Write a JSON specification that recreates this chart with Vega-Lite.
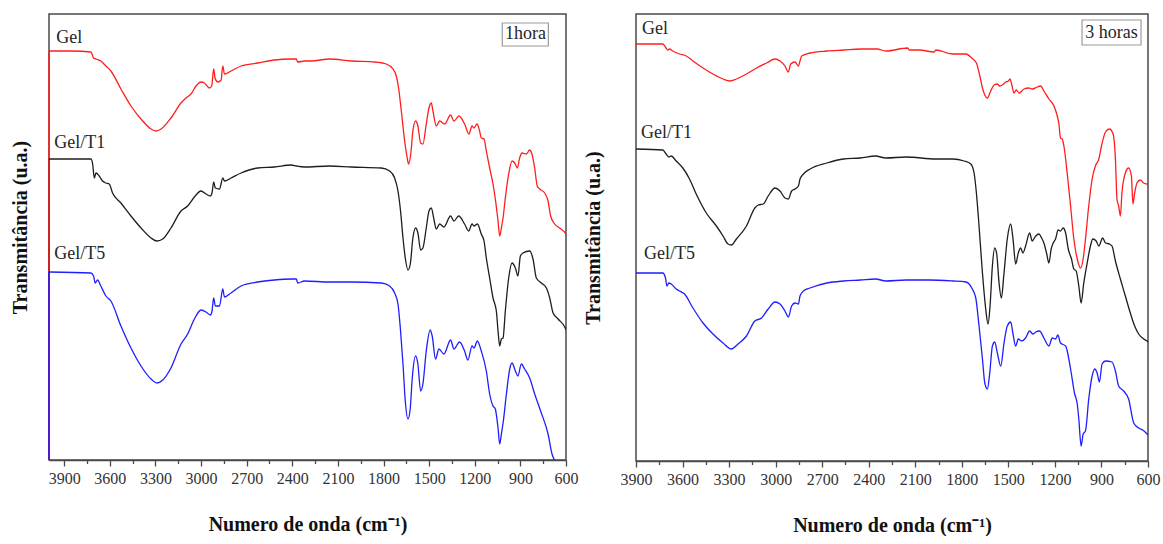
{
"$schema": "https://vega.github.io/schema/vega-lite/v6.json",
"background": "white",
"padding": {"left": 9, "top": 13, "right": 5, "bottom": 0},
"spacing": 3,
"config": {
  "view": {"stroke": "#4a4a4a", "strokeWidth": 1.5},
  "axis": {"domainColor": "#4a4a4a", "tickColor": "#4a4a4a", "domainWidth": 1.5, "tickWidth": 1.3, "labelFont": "Liberation Serif", "titleFont": "Liberation Serif", "labelColor": "#333333", "titleColor": "#111111", "grid": false},
  "text": {"font": "Liberation Serif"}
},
"datasets": {
  "h1": [
    {"s":"Gel","w":4000,"t":409},{"s":"Gel","w":3850,"t":409},{"s":"Gel","w":3724,"t":408},{"s":"Gel","w":3707,"t":402},{"s":"Gel","w":3691,"t":401},{"s":"Gel","w":3659,"t":399},{"s":"Gel","w":3626,"t":394},{"s":"Gel","w":3593,"t":389},{"s":"Gel","w":3527,"t":371},{"s":"Gel","w":3461,"t":354},{"s":"Gel","w":3395,"t":341},{"s":"Gel","w":3329,"t":331},{"s":"Gel","w":3296,"t":329},{"s":"Gel","w":3263,"t":331},{"s":"Gel","w":3198,"t":342},{"s":"Gel","w":3132,"t":357},{"s":"Gel","w":3099,"t":362},{"s":"Gel","w":3066,"t":366},{"s":"Gel","w":3033,"t":374},{"s":"Gel","w":3000,"t":378},{"s":"Gel","w":2978,"t":377},{"s":"Gel","w":2945,"t":372},{"s":"Gel","w":2930,"t":374},{"s":"Gel","w":2917,"t":391},{"s":"Gel","w":2908,"t":382},{"s":"Gel","w":2890,"t":378},{"s":"Gel","w":2868,"t":380},{"s":"Gel","w":2857,"t":394},{"s":"Gel","w":2846,"t":386},{"s":"Gel","w":2803,"t":389},{"s":"Gel","w":2737,"t":394},{"s":"Gel","w":2627,"t":397},{"s":"Gel","w":2517,"t":400},{"s":"Gel","w":2407,"t":401},{"s":"Gel","w":2374,"t":401},{"s":"Gel","w":2364,"t":398},{"s":"Gel","w":2320,"t":399},{"s":"Gel","w":2276,"t":399},{"s":"Gel","w":2155,"t":401},{"s":"Gel","w":2012,"t":399},{"s":"Gel","w":1859,"t":398},{"s":"Gel","w":1782,"t":396},{"s":"Gel","w":1738,"t":391},{"s":"Gel","w":1716,"t":384},{"s":"Gel","w":1701,"t":372},{"s":"Gel","w":1683,"t":349},{"s":"Gel","w":1661,"t":319},{"s":"Gel","w":1644,"t":302},{"s":"Gel","w":1635,"t":296},{"s":"Gel","w":1621,"t":306},{"s":"Gel","w":1607,"t":329},{"s":"Gel","w":1589,"t":339},{"s":"Gel","w":1574,"t":334},{"s":"Gel","w":1556,"t":317},{"s":"Gel","w":1541,"t":316},{"s":"Gel","w":1519,"t":336},{"s":"Gel","w":1501,"t":352},{"s":"Gel","w":1486,"t":357},{"s":"Gel","w":1475,"t":349},{"s":"Gel","w":1453,"t":334},{"s":"Gel","w":1431,"t":339},{"s":"Gel","w":1398,"t":336},{"s":"Gel","w":1359,"t":345},{"s":"Gel","w":1337,"t":339},{"s":"Gel","w":1304,"t":344},{"s":"Gel","w":1267,"t":336},{"s":"Gel","w":1238,"t":326},{"s":"Gel","w":1218,"t":334},{"s":"Gel","w":1205,"t":332},{"s":"Gel","w":1185,"t":336},{"s":"Gel","w":1168,"t":329},{"s":"Gel","w":1157,"t":322},{"s":"Gel","w":1139,"t":321},{"s":"Gel","w":1124,"t":309},{"s":"Gel","w":1102,"t":292},{"s":"Gel","w":1080,"t":276},{"s":"Gel","w":1063,"t":259},{"s":"Gel","w":1047,"t":239},{"s":"Gel","w":1036,"t":224},{"s":"Gel","w":1025,"t":232},{"s":"Gel","w":1014,"t":242},{"s":"Gel","w":999,"t":262},{"s":"Gel","w":977,"t":286},{"s":"Gel","w":955,"t":299},{"s":"Gel","w":937,"t":297},{"s":"Gel","w":920,"t":292},{"s":"Gel","w":905,"t":302},{"s":"Gel","w":889,"t":307},{"s":"Gel","w":861,"t":306},{"s":"Gel","w":839,"t":310},{"s":"Gel","w":824,"t":306},{"s":"Gel","w":806,"t":292},{"s":"Gel","w":789,"t":274},{"s":"Gel","w":773,"t":271},{"s":"Gel","w":740,"t":267},{"s":"Gel","w":718,"t":259},{"s":"Gel","w":701,"t":244},{"s":"Gel","w":675,"t":236},{"s":"Gel","w":642,"t":232},{"s":"Gel","w":602,"t":226},{"s":"Gel","w":600,"t":225},
    {"s":"Gel/T1","w":4000,"t":301},{"s":"Gel/T1","w":3724,"t":301},{"s":"Gel/T1","w":3713,"t":296},{"s":"Gel/T1","w":3702,"t":282},{"s":"Gel/T1","w":3691,"t":287},{"s":"Gel/T1","w":3670,"t":284},{"s":"Gel/T1","w":3648,"t":279},{"s":"Gel/T1","w":3626,"t":277},{"s":"Gel/T1","w":3604,"t":276},{"s":"Gel/T1","w":3582,"t":267},{"s":"Gel/T1","w":3527,"t":257},{"s":"Gel/T1","w":3461,"t":244},{"s":"Gel/T1","w":3395,"t":232},{"s":"Gel/T1","w":3329,"t":222},{"s":"Gel/T1","w":3290,"t":219},{"s":"Gel/T1","w":3252,"t":221},{"s":"Gel/T1","w":3198,"t":232},{"s":"Gel/T1","w":3132,"t":249},{"s":"Gel/T1","w":3088,"t":254},{"s":"Gel/T1","w":3044,"t":263},{"s":"Gel/T1","w":3000,"t":269},{"s":"Gel/T1","w":2967,"t":266},{"s":"Gel/T1","w":2939,"t":264},{"s":"Gel/T1","w":2928,"t":267},{"s":"Gel/T1","w":2917,"t":278},{"s":"Gel/T1","w":2906,"t":272},{"s":"Gel/T1","w":2879,"t":271},{"s":"Gel/T1","w":2857,"t":282},{"s":"Gel/T1","w":2846,"t":279},{"s":"Gel/T1","w":2803,"t":282},{"s":"Gel/T1","w":2737,"t":287},{"s":"Gel/T1","w":2627,"t":292},{"s":"Gel/T1","w":2517,"t":293},{"s":"Gel/T1","w":2407,"t":295},{"s":"Gel/T1","w":2374,"t":294},{"s":"Gel/T1","w":2320,"t":293},{"s":"Gel/T1","w":2155,"t":294},{"s":"Gel/T1","w":2012,"t":293},{"s":"Gel/T1","w":1815,"t":292},{"s":"Gel/T1","w":1760,"t":289},{"s":"Gel/T1","w":1727,"t":282},{"s":"Gel/T1","w":1705,"t":269},{"s":"Gel/T1","w":1688,"t":249},{"s":"Gel/T1","w":1672,"t":222},{"s":"Gel/T1","w":1657,"t":202},{"s":"Gel/T1","w":1639,"t":190},{"s":"Gel/T1","w":1624,"t":196},{"s":"Gel/T1","w":1607,"t":222},{"s":"Gel/T1","w":1589,"t":232},{"s":"Gel/T1","w":1574,"t":227},{"s":"Gel/T1","w":1556,"t":210},{"s":"Gel/T1","w":1541,"t":212},{"s":"Gel/T1","w":1519,"t":232},{"s":"Gel/T1","w":1501,"t":249},{"s":"Gel/T1","w":1486,"t":252},{"s":"Gel/T1","w":1469,"t":241},{"s":"Gel/T1","w":1453,"t":231},{"s":"Gel/T1","w":1431,"t":236},{"s":"Gel/T1","w":1403,"t":233},{"s":"Gel/T1","w":1359,"t":244},{"s":"Gel/T1","w":1337,"t":239},{"s":"Gel/T1","w":1306,"t":244},{"s":"Gel/T1","w":1267,"t":236},{"s":"Gel/T1","w":1240,"t":229},{"s":"Gel/T1","w":1218,"t":236},{"s":"Gel/T1","w":1205,"t":234},{"s":"Gel/T1","w":1183,"t":236},{"s":"Gel/T1","w":1157,"t":226},{"s":"Gel/T1","w":1139,"t":219},{"s":"Gel/T1","w":1124,"t":202},{"s":"Gel/T1","w":1102,"t":182},{"s":"Gel/T1","w":1080,"t":162},{"s":"Gel/T1","w":1058,"t":149},{"s":"Gel/T1","w":1047,"t":129},{"s":"Gel/T1","w":1036,"t":114},{"s":"Gel/T1","w":1025,"t":121},{"s":"Gel/T1","w":1014,"t":122},{"s":"Gel/T1","w":999,"t":149},{"s":"Gel/T1","w":977,"t":182},{"s":"Gel/T1","w":955,"t":197},{"s":"Gel/T1","w":933,"t":192},{"s":"Gel/T1","w":916,"t":184},{"s":"Gel/T1","w":900,"t":204},{"s":"Gel/T1","w":883,"t":207},{"s":"Gel/T1","w":839,"t":209},{"s":"Gel/T1","w":817,"t":201},{"s":"Gel/T1","w":795,"t":182},{"s":"Gel/T1","w":762,"t":177},{"s":"Gel/T1","w":729,"t":172},{"s":"Gel/T1","w":707,"t":162},{"s":"Gel/T1","w":685,"t":147},{"s":"Gel/T1","w":652,"t":141},{"s":"Gel/T1","w":602,"t":131},{"s":"Gel/T1","w":600,"t":130},
    {"s":"Gel/T5","w":4000,"t":188},{"s":"Gel/T5","w":3724,"t":187},{"s":"Gel/T5","w":3707,"t":184},{"s":"Gel/T5","w":3696,"t":177},{"s":"Gel/T5","w":3681,"t":180},{"s":"Gel/T5","w":3659,"t":174},{"s":"Gel/T5","w":3626,"t":164},{"s":"Gel/T5","w":3593,"t":159},{"s":"Gel/T5","w":3527,"t":134},{"s":"Gel/T5","w":3461,"t":112},{"s":"Gel/T5","w":3395,"t":94},{"s":"Gel/T5","w":3329,"t":81},{"s":"Gel/T5","w":3290,"t":77},{"s":"Gel/T5","w":3252,"t":80},{"s":"Gel/T5","w":3198,"t":92},{"s":"Gel/T5","w":3132,"t":116},{"s":"Gel/T5","w":3088,"t":126},{"s":"Gel/T5","w":3044,"t":141},{"s":"Gel/T5","w":3000,"t":150},{"s":"Gel/T5","w":2967,"t":148},{"s":"Gel/T5","w":2939,"t":145},{"s":"Gel/T5","w":2928,"t":149},{"s":"Gel/T5","w":2917,"t":162},{"s":"Gel/T5","w":2906,"t":154},{"s":"Gel/T5","w":2879,"t":154},{"s":"Gel/T5","w":2857,"t":171},{"s":"Gel/T5","w":2846,"t":163},{"s":"Gel/T5","w":2803,"t":167},{"s":"Gel/T5","w":2737,"t":174},{"s":"Gel/T5","w":2627,"t":178},{"s":"Gel/T5","w":2517,"t":180},{"s":"Gel/T5","w":2407,"t":181},{"s":"Gel/T5","w":2374,"t":181},{"s":"Gel/T5","w":2364,"t":177},{"s":"Gel/T5","w":2320,"t":179},{"s":"Gel/T5","w":2155,"t":178},{"s":"Gel/T5","w":2012,"t":178},{"s":"Gel/T5","w":1815,"t":177},{"s":"Gel/T5","w":1760,"t":174},{"s":"Gel/T5","w":1727,"t":167},{"s":"Gel/T5","w":1705,"t":156},{"s":"Gel/T5","w":1688,"t":129},{"s":"Gel/T5","w":1672,"t":96},{"s":"Gel/T5","w":1657,"t":59},{"s":"Gel/T5","w":1639,"t":41},{"s":"Gel/T5","w":1624,"t":52},{"s":"Gel/T5","w":1611,"t":82},{"s":"Gel/T5","w":1589,"t":104},{"s":"Gel/T5","w":1574,"t":96},{"s":"Gel/T5","w":1556,"t":69},{"s":"Gel/T5","w":1541,"t":76},{"s":"Gel/T5","w":1519,"t":109},{"s":"Gel/T5","w":1493,"t":130},{"s":"Gel/T5","w":1480,"t":124},{"s":"Gel/T5","w":1458,"t":101},{"s":"Gel/T5","w":1436,"t":111},{"s":"Gel/T5","w":1403,"t":106},{"s":"Gel/T5","w":1359,"t":120},{"s":"Gel/T5","w":1337,"t":111},{"s":"Gel/T5","w":1300,"t":118},{"s":"Gel/T5","w":1267,"t":109},{"s":"Gel/T5","w":1245,"t":100},{"s":"Gel/T5","w":1218,"t":114},{"s":"Gel/T5","w":1205,"t":112},{"s":"Gel/T5","w":1183,"t":119},{"s":"Gel/T5","w":1157,"t":109},{"s":"Gel/T5","w":1124,"t":89},{"s":"Gel/T5","w":1102,"t":66},{"s":"Gel/T5","w":1080,"t":54},{"s":"Gel/T5","w":1065,"t":51},{"s":"Gel/T5","w":1047,"t":32},{"s":"Gel/T5","w":1036,"t":16},{"s":"Gel/T5","w":1025,"t":26},{"s":"Gel/T5","w":1012,"t":39},{"s":"Gel/T5","w":992,"t":66},{"s":"Gel/T5","w":970,"t":91},{"s":"Gel/T5","w":955,"t":97},{"s":"Gel/T5","w":933,"t":89},{"s":"Gel/T5","w":916,"t":84},{"s":"Gel/T5","w":894,"t":96},{"s":"Gel/T5","w":872,"t":91},{"s":"Gel/T5","w":839,"t":82},{"s":"Gel/T5","w":806,"t":66},{"s":"Gel/T5","w":767,"t":49},{"s":"Gel/T5","w":718,"t":26},{"s":"Gel/T5","w":692,"t":6},{"s":"Gel/T5","w":676,"t":0}
  ],
  "h3": [
    {"s":"Gel","w":3900,"t":417},{"s":"Gel","w":3727,"t":417},{"s":"Gel","w":3706,"t":413},{"s":"Gel","w":3695,"t":411},{"s":"Gel","w":3684,"t":412},{"s":"Gel","w":3663,"t":410},{"s":"Gel","w":3619,"t":407},{"s":"Gel","w":3576,"t":405},{"s":"Gel","w":3533,"t":400},{"s":"Gel","w":3468,"t":393},{"s":"Gel","w":3404,"t":387},{"s":"Gel","w":3339,"t":382},{"s":"Gel","w":3296,"t":380},{"s":"Gel","w":3253,"t":382},{"s":"Gel","w":3188,"t":387},{"s":"Gel","w":3123,"t":393},{"s":"Gel","w":3058,"t":398},{"s":"Gel","w":3004,"t":402},{"s":"Gel","w":2972,"t":400},{"s":"Gel","w":2940,"t":395},{"s":"Gel","w":2918,"t":389},{"s":"Gel","w":2903,"t":397},{"s":"Gel","w":2875,"t":399},{"s":"Gel","w":2853,"t":395},{"s":"Gel","w":2843,"t":400},{"s":"Gel","w":2832,"t":405},{"s":"Gel","w":2778,"t":408},{"s":"Gel","w":2670,"t":410},{"s":"Gel","w":2562,"t":411},{"s":"Gel","w":2454,"t":412},{"s":"Gel","w":2346,"t":412},{"s":"Gel","w":2289,"t":410},{"s":"Gel","w":2149,"t":413},{"s":"Gel","w":2139,"t":411},{"s":"Gel","w":2074,"t":411},{"s":"Gel","w":1978,"t":409},{"s":"Gel","w":1967,"t":411},{"s":"Gel","w":1860,"t":407},{"s":"Gel","w":1774,"t":407},{"s":"Gel","w":1736,"t":403},{"s":"Gel","w":1706,"t":398},{"s":"Gel","w":1684,"t":385},{"s":"Gel","w":1667,"t":373},{"s":"Gel","w":1652,"t":366},{"s":"Gel","w":1635,"t":363},{"s":"Gel","w":1614,"t":370},{"s":"Gel","w":1592,"t":376},{"s":"Gel","w":1571,"t":377},{"s":"Gel","w":1556,"t":375},{"s":"Gel","w":1539,"t":376},{"s":"Gel","w":1517,"t":379},{"s":"Gel","w":1500,"t":380},{"s":"Gel","w":1489,"t":382},{"s":"Gel","w":1479,"t":377},{"s":"Gel","w":1464,"t":368},{"s":"Gel","w":1449,"t":371},{"s":"Gel","w":1431,"t":368},{"s":"Gel","w":1399,"t":372},{"s":"Gel","w":1367,"t":373},{"s":"Gel","w":1346,"t":372},{"s":"Gel","w":1314,"t":374},{"s":"Gel","w":1292,"t":375},{"s":"Gel","w":1271,"t":370},{"s":"Gel","w":1239,"t":362},{"s":"Gel","w":1206,"t":355},{"s":"Gel","w":1185,"t":345},{"s":"Gel","w":1174,"t":337},{"s":"Gel","w":1164,"t":323},{"s":"Gel","w":1153,"t":322},{"s":"Gel","w":1142,"t":315},{"s":"Gel","w":1121,"t":288},{"s":"Gel","w":1099,"t":255},{"s":"Gel","w":1078,"t":222},{"s":"Gel","w":1056,"t":202},{"s":"Gel","w":1035,"t":193},{"s":"Gel","w":1018,"t":202},{"s":"Gel","w":1003,"t":222},{"s":"Gel","w":982,"t":255},{"s":"Gel","w":960,"t":282},{"s":"Gel","w":939,"t":295},{"s":"Gel","w":917,"t":302},{"s":"Gel","w":900,"t":315},{"s":"Gel","w":874,"t":329},{"s":"Gel","w":849,"t":332},{"s":"Gel","w":825,"t":327},{"s":"Gel","w":810,"t":302},{"s":"Gel","w":800,"t":262},{"s":"Gel","w":789,"t":255},{"s":"Gel","w":778,"t":245},{"s":"Gel","w":768,"t":268},{"s":"Gel","w":746,"t":288},{"s":"Gel","w":725,"t":293},{"s":"Gel","w":707,"t":285},{"s":"Gel","w":697,"t":257},{"s":"Gel","w":686,"t":268},{"s":"Gel","w":671,"t":278},{"s":"Gel","w":649,"t":281},{"s":"Gel","w":628,"t":278},{"s":"Gel","w":606,"t":277},{"s":"Gel","w":600,"t":277},
    {"s":"Gel/T1","w":3900,"t":312},{"s":"Gel/T1","w":3727,"t":311},{"s":"Gel/T1","w":3706,"t":307},{"s":"Gel/T1","w":3688,"t":304},{"s":"Gel/T1","w":3673,"t":305},{"s":"Gel/T1","w":3641,"t":300},{"s":"Gel/T1","w":3598,"t":293},{"s":"Gel/T1","w":3555,"t":282},{"s":"Gel/T1","w":3512,"t":267},{"s":"Gel/T1","w":3447,"t":248},{"s":"Gel/T1","w":3382,"t":235},{"s":"Gel/T1","w":3339,"t":225},{"s":"Gel/T1","w":3307,"t":217},{"s":"Gel/T1","w":3285,"t":216},{"s":"Gel/T1","w":3253,"t":222},{"s":"Gel/T1","w":3188,"t":235},{"s":"Gel/T1","w":3134,"t":253},{"s":"Gel/T1","w":3112,"t":256},{"s":"Gel/T1","w":3080,"t":257},{"s":"Gel/T1","w":3048,"t":265},{"s":"Gel/T1","w":3004,"t":273},{"s":"Gel/T1","w":2972,"t":270},{"s":"Gel/T1","w":2940,"t":263},{"s":"Gel/T1","w":2918,"t":262},{"s":"Gel/T1","w":2897,"t":270},{"s":"Gel/T1","w":2875,"t":272},{"s":"Gel/T1","w":2853,"t":275},{"s":"Gel/T1","w":2843,"t":282},{"s":"Gel/T1","w":2821,"t":287},{"s":"Gel/T1","w":2778,"t":292},{"s":"Gel/T1","w":2670,"t":298},{"s":"Gel/T1","w":2562,"t":302},{"s":"Gel/T1","w":2454,"t":303},{"s":"Gel/T1","w":2357,"t":305},{"s":"Gel/T1","w":2289,"t":303},{"s":"Gel/T1","w":2160,"t":304},{"s":"Gel/T1","w":1967,"t":302},{"s":"Gel/T1","w":1860,"t":302},{"s":"Gel/T1","w":1785,"t":300},{"s":"Gel/T1","w":1742,"t":297},{"s":"Gel/T1","w":1721,"t":288},{"s":"Gel/T1","w":1706,"t":268},{"s":"Gel/T1","w":1689,"t":235},{"s":"Gel/T1","w":1667,"t":188},{"s":"Gel/T1","w":1646,"t":152},{"s":"Gel/T1","w":1631,"t":137},{"s":"Gel/T1","w":1618,"t":155},{"s":"Gel/T1","w":1603,"t":195},{"s":"Gel/T1","w":1588,"t":213},{"s":"Gel/T1","w":1575,"t":207},{"s":"Gel/T1","w":1560,"t":178},{"s":"Gel/T1","w":1545,"t":163},{"s":"Gel/T1","w":1528,"t":188},{"s":"Gel/T1","w":1507,"t":222},{"s":"Gel/T1","w":1485,"t":237},{"s":"Gel/T1","w":1470,"t":222},{"s":"Gel/T1","w":1453,"t":197},{"s":"Gel/T1","w":1436,"t":208},{"s":"Gel/T1","w":1421,"t":213},{"s":"Gel/T1","w":1406,"t":208},{"s":"Gel/T1","w":1389,"t":215},{"s":"Gel/T1","w":1363,"t":228},{"s":"Gel/T1","w":1346,"t":220},{"s":"Gel/T1","w":1324,"t":225},{"s":"Gel/T1","w":1303,"t":227},{"s":"Gel/T1","w":1286,"t":223},{"s":"Gel/T1","w":1271,"t":218},{"s":"Gel/T1","w":1254,"t":208},{"s":"Gel/T1","w":1239,"t":198},{"s":"Gel/T1","w":1224,"t":212},{"s":"Gel/T1","w":1211,"t":218},{"s":"Gel/T1","w":1196,"t":222},{"s":"Gel/T1","w":1179,"t":231},{"s":"Gel/T1","w":1164,"t":230},{"s":"Gel/T1","w":1147,"t":233},{"s":"Gel/T1","w":1131,"t":228},{"s":"Gel/T1","w":1114,"t":212},{"s":"Gel/T1","w":1093,"t":202},{"s":"Gel/T1","w":1078,"t":192},{"s":"Gel/T1","w":1063,"t":190},{"s":"Gel/T1","w":1046,"t":175},{"s":"Gel/T1","w":1031,"t":158},{"s":"Gel/T1","w":1014,"t":178},{"s":"Gel/T1","w":992,"t":198},{"s":"Gel/T1","w":971,"t":215},{"s":"Gel/T1","w":956,"t":222},{"s":"Gel/T1","w":934,"t":220},{"s":"Gel/T1","w":917,"t":215},{"s":"Gel/T1","w":892,"t":223},{"s":"Gel/T1","w":874,"t":218},{"s":"Gel/T1","w":849,"t":217},{"s":"Gel/T1","w":832,"t":215},{"s":"Gel/T1","w":810,"t":200},{"s":"Gel/T1","w":778,"t":182},{"s":"Gel/T1","w":746,"t":165},{"s":"Gel/T1","w":714,"t":148},{"s":"Gel/T1","w":686,"t":135},{"s":"Gel/T1","w":660,"t":127},{"s":"Gel/T1","w":628,"t":122},{"s":"Gel/T1","w":606,"t":120},{"s":"Gel/T1","w":600,"t":119},
    {"s":"Gel/T5","w":3900,"t":188},{"s":"Gel/T5","w":3727,"t":188},{"s":"Gel/T5","w":3710,"t":183},{"s":"Gel/T5","w":3701,"t":175},{"s":"Gel/T5","w":3688,"t":178},{"s":"Gel/T5","w":3673,"t":177},{"s":"Gel/T5","w":3641,"t":172},{"s":"Gel/T5","w":3619,"t":170},{"s":"Gel/T5","w":3587,"t":167},{"s":"Gel/T5","w":3533,"t":153},{"s":"Gel/T5","w":3468,"t":138},{"s":"Gel/T5","w":3404,"t":127},{"s":"Gel/T5","w":3339,"t":118},{"s":"Gel/T5","w":3285,"t":112},{"s":"Gel/T5","w":3242,"t":117},{"s":"Gel/T5","w":3188,"t":125},{"s":"Gel/T5","w":3134,"t":140},{"s":"Gel/T5","w":3091,"t":143},{"s":"Gel/T5","w":3048,"t":152},{"s":"Gel/T5","w":3004,"t":159},{"s":"Gel/T5","w":2972,"t":157},{"s":"Gel/T5","w":2940,"t":150},{"s":"Gel/T5","w":2918,"t":144},{"s":"Gel/T5","w":2897,"t":155},{"s":"Gel/T5","w":2875,"t":158},{"s":"Gel/T5","w":2853,"t":157},{"s":"Gel/T5","w":2843,"t":165},{"s":"Gel/T5","w":2821,"t":170},{"s":"Gel/T5","w":2778,"t":173},{"s":"Gel/T5","w":2670,"t":178},{"s":"Gel/T5","w":2562,"t":180},{"s":"Gel/T5","w":2454,"t":181},{"s":"Gel/T5","w":2357,"t":182},{"s":"Gel/T5","w":2289,"t":180},{"s":"Gel/T5","w":2160,"t":181},{"s":"Gel/T5","w":2010,"t":181},{"s":"Gel/T5","w":1860,"t":180},{"s":"Gel/T5","w":1774,"t":179},{"s":"Gel/T5","w":1736,"t":173},{"s":"Gel/T5","w":1710,"t":163},{"s":"Gel/T5","w":1689,"t":135},{"s":"Gel/T5","w":1667,"t":102},{"s":"Gel/T5","w":1652,"t":78},{"s":"Gel/T5","w":1635,"t":72},{"s":"Gel/T5","w":1620,"t":88},{"s":"Gel/T5","w":1603,"t":115},{"s":"Gel/T5","w":1588,"t":119},{"s":"Gel/T5","w":1571,"t":108},{"s":"Gel/T5","w":1549,"t":95},{"s":"Gel/T5","w":1528,"t":118},{"s":"Gel/T5","w":1507,"t":135},{"s":"Gel/T5","w":1485,"t":139},{"s":"Gel/T5","w":1470,"t":127},{"s":"Gel/T5","w":1453,"t":115},{"s":"Gel/T5","w":1436,"t":122},{"s":"Gel/T5","w":1414,"t":120},{"s":"Gel/T5","w":1389,"t":123},{"s":"Gel/T5","w":1363,"t":130},{"s":"Gel/T5","w":1342,"t":127},{"s":"Gel/T5","w":1324,"t":129},{"s":"Gel/T5","w":1299,"t":130},{"s":"Gel/T5","w":1271,"t":123},{"s":"Gel/T5","w":1239,"t":115},{"s":"Gel/T5","w":1217,"t":123},{"s":"Gel/T5","w":1196,"t":122},{"s":"Gel/T5","w":1181,"t":126},{"s":"Gel/T5","w":1164,"t":118},{"s":"Gel/T5","w":1131,"t":115},{"s":"Gel/T5","w":1099,"t":92},{"s":"Gel/T5","w":1074,"t":68},{"s":"Gel/T5","w":1056,"t":57},{"s":"Gel/T5","w":1046,"t":42},{"s":"Gel/T5","w":1031,"t":15},{"s":"Gel/T5","w":1018,"t":27},{"s":"Gel/T5","w":1003,"t":30},{"s":"Gel/T5","w":982,"t":62},{"s":"Gel/T5","w":960,"t":85},{"s":"Gel/T5","w":943,"t":92},{"s":"Gel/T5","w":928,"t":88},{"s":"Gel/T5","w":913,"t":79},{"s":"Gel/T5","w":896,"t":97},{"s":"Gel/T5","w":874,"t":100},{"s":"Gel/T5","w":832,"t":99},{"s":"Gel/T5","w":810,"t":90},{"s":"Gel/T5","w":789,"t":75},{"s":"Gel/T5","w":757,"t":70},{"s":"Gel/T5","w":725,"t":62},{"s":"Gel/T5","w":692,"t":38},{"s":"Gel/T5","w":660,"t":33},{"s":"Gel/T5","w":634,"t":31},{"s":"Gel/T5","w":606,"t":27},{"s":"Gel/T5","w":600,"t":26}
  ],
  "edge1": [{"s":"Gel/T1","w":4000,"t":301},{"s":"Gel","w":4000,"t":409},{"s":"Gel/T5","w":4000,"t":188}],
  "lab1": [{"label":"Gel","w":3952,"t":422},{"label":"Gel/T1","w":3965,"t":317},{"label":"Gel/T5","w":3965,"t":206}],
  "lab3": [{"label":"Gel","w":3861,"t":432},{"label":"Gel/T1","w":3868,"t":328},{"label":"Gel/T5","w":3848,"t":207}],
  "box1": [{"txt":"1hora","w1":1019,"w2":716,"t":437,"t2":414,"wm":867,"tm":426}],
  "box3": [{"txt":"3 horas","w1":1025,"w2":645,"t":441,"t2":416,"wm":835,"tm":428.5}]
},
"hconcat": [
  {
    "width": 517, "height": 446,
    "resolve": {"axis": {"x": "independent"}},
    "layer": [
      {
        "data": {"name": "edge1"},
        "mark": {"type": "rule", "strokeWidth": 1.5},
        "encoding": {
          "x": {"field": "w", "type": "quantitative", "scale": {"domain": [600, 4000], "reverse": true, "nice": false, "zero": false}, "axis": null},
          "y": {"field": "t", "type": "quantitative", "scale": {"domain": [0, 446], "nice": false, "zero": false}},
          "y2": {"datum": 0},
          "color": {"field": "s", "type": "nominal", "scale": {"domain": ["Gel", "Gel/T1", "Gel/T5"], "range": ["#ff1e1e", "#1e1e1e", "#1e1eff"]}, "legend": null}
        }
      },
      {
        "data": {"name": "h1"},
        "mark": {"type": "line", "strokeWidth": 1.3, "clip": true, "interpolate": "monotone"},
        "encoding": {
          "x": {"field": "w", "type": "quantitative", "scale": {"domain": [600, 4000], "reverse": true, "nice": false, "zero": false},
                "axis": {"orient": "bottom", "values": [3900,3600,3300,3000,2700,2400,2100,1800,1500,1200,900,600], "format": "d", "title": "Numero de onda (cm⁻¹)", "titleFontSize": 20, "titleFontWeight": "bold", "titlePadding": 28, "labelFontSize": 16, "labelPadding": 4, "tickSize": 6, "labelFlush": false, "labelOverlap": false}},
          "y": {"field": "t", "type": "quantitative", "scale": {"domain": [0, 446], "nice": false, "zero": false},
                "axis": {"title": "Transmitância (u.a.)", "labels": false, "ticks": false, "domain": false, "titleFontSize": 20, "titleFontWeight": "bold", "titlePadding": 19, "titleY": 213}},
          "color": {"field": "s", "type": "nominal", "scale": {"domain": ["Gel", "Gel/T1", "Gel/T5"], "range": ["#ff1e1e", "#1e1e1e", "#1e1eff"]}, "legend": null}
        }
      },
      {
        "data": {"name": "lab1"},
        "mark": {"type": "text", "align": "left", "baseline": "middle", "fontSize": 18, "color": "#262626"},
        "encoding": {
          "x": {"field": "w", "type": "quantitative", "scale": {"domain": [600, 4000], "reverse": true, "nice": false, "zero": false},
                "axis": {"orient": "bottom", "values": [3750,3450,3150,2850,2550,2250,1950,1650,1350,1050,750], "labels": false, "domain": false, "tickSize": 3.5, "title": null}},
          "y": {"field": "t", "type": "quantitative", "scale": {"domain": [0, 446], "nice": false, "zero": false}},
          "text": {"field": "label"}
        }
      },
      {
        "data": {"name": "box1"},
        "mark": {"type": "rect", "fill": "white", "stroke": "#9a9a9a", "strokeWidth": 1.2},
        "encoding": {
          "x": {"field": "w1", "type": "quantitative", "scale": {"domain": [600, 4000], "reverse": true, "nice": false, "zero": false}, "axis": null},
          "x2": {"field": "w2"},
          "y": {"field": "t", "type": "quantitative", "scale": {"domain": [0, 446], "nice": false, "zero": false}},
          "y2": {"field": "t2"}
        }
      },
      {
        "data": {"name": "box1"},
        "mark": {"type": "text", "align": "center", "baseline": "middle", "fontSize": 18, "color": "#262626"},
        "encoding": {
          "x": {"field": "wm", "type": "quantitative", "scale": {"domain": [600, 4000], "reverse": true, "nice": false, "zero": false}, "axis": null},
          "y": {"field": "tm", "type": "quantitative", "scale": {"domain": [0, 446], "nice": false, "zero": false}},
          "text": {"field": "txt"}
        }
      }
    ]
  },
  {
    "width": 512, "height": 447,
    "resolve": {"axis": {"x": "independent"}},
    "layer": [
      {
        "data": {"name": "h3"},
        "mark": {"type": "line", "strokeWidth": 1.3, "clip": true, "interpolate": "monotone"},
        "encoding": {
          "x": {"field": "w", "type": "quantitative", "scale": {"domain": [600, 3900], "reverse": true, "nice": false, "zero": false},
                "axis": {"orient": "bottom", "values": [3900,3600,3300,3000,2700,2400,2100,1800,1500,1200,900,600], "format": "d", "title": "Numero de onda (cm⁻¹)", "titleFontSize": 20, "titleFontWeight": "bold", "titlePadding": 28, "labelFontSize": 16, "labelPadding": 4, "tickSize": 6, "labelFlush": false, "labelOverlap": false}},
          "y": {"field": "t", "type": "quantitative", "scale": {"domain": [0, 447], "nice": false, "zero": false},
                "axis": {"title": "Transmitância (u.a.)", "labels": false, "ticks": false, "domain": false, "titleFontSize": 20, "titleFontWeight": "bold", "titlePadding": 33}},
          "color": {"field": "s", "type": "nominal", "scale": {"domain": ["Gel", "Gel/T1", "Gel/T5"], "range": ["#ff1e1e", "#1e1e1e", "#1e1eff"]}, "legend": null}
        }
      },
      {
        "data": {"name": "lab3"},
        "mark": {"type": "text", "align": "left", "baseline": "middle", "fontSize": 18, "color": "#262626"},
        "encoding": {
          "x": {"field": "w", "type": "quantitative", "scale": {"domain": [600, 3900], "reverse": true, "nice": false, "zero": false},
                "axis": {"orient": "bottom", "values": [3750,3450,3150,2850,2550,2250,1950,1650,1350,1050,750], "labels": false, "domain": false, "tickSize": 3.5, "title": null}},
          "y": {"field": "t", "type": "quantitative", "scale": {"domain": [0, 447], "nice": false, "zero": false}},
          "text": {"field": "label"}
        }
      },
      {
        "data": {"name": "box3"},
        "mark": {"type": "rect", "fill": "white", "stroke": "#9a9a9a", "strokeWidth": 1.2},
        "encoding": {
          "x": {"field": "w1", "type": "quantitative", "scale": {"domain": [600, 3900], "reverse": true, "nice": false, "zero": false}, "axis": null},
          "x2": {"field": "w2"},
          "y": {"field": "t", "type": "quantitative", "scale": {"domain": [0, 447], "nice": false, "zero": false}},
          "y2": {"field": "t2"}
        }
      },
      {
        "data": {"name": "box3"},
        "mark": {"type": "text", "align": "center", "baseline": "middle", "fontSize": 18, "color": "#262626"},
        "encoding": {
          "x": {"field": "wm", "type": "quantitative", "scale": {"domain": [600, 3900], "reverse": true, "nice": false, "zero": false}, "axis": null},
          "y": {"field": "tm", "type": "quantitative", "scale": {"domain": [0, 447], "nice": false, "zero": false}},
          "text": {"field": "txt"}
        }
      }
    ]
  }
]
}
